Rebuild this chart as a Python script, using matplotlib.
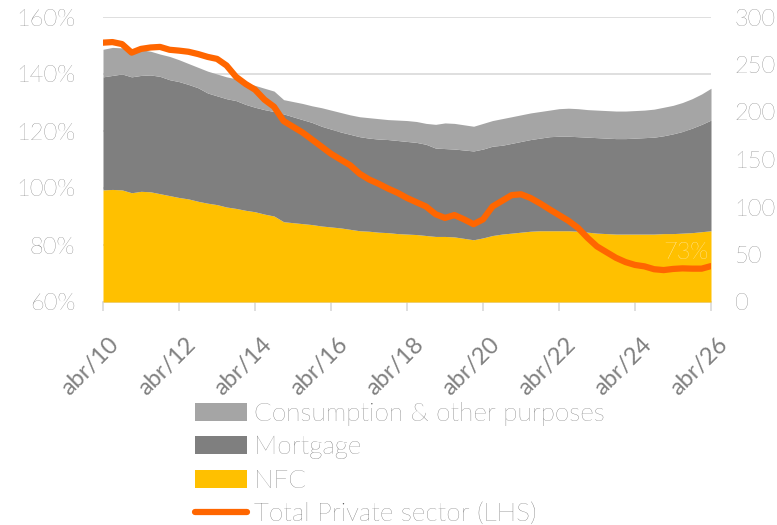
import matplotlib
matplotlib.use("Agg")
import matplotlib.pyplot as plt
import matplotlib.transforms as mtransforms
import numpy as np
import pandas as pd

# quarterly observations, Apr 2010 .. Apr 2026
dates = pd.date_range("2010-04-01", "2026-04-01", freq="3MS")

# stacked components (RHS scale)
nfc = [118, 118.5, 118, 115, 116.5, 116, 114, 112, 110, 108.5, 106, 104, 102.5, 100, 98.5, 96.5,
       95, 92.5, 90.5, 84.5, 83.5, 82.5, 81.5, 80, 79, 78, 76.5, 75, 74.5, 73.5, 73, 72,
       71.5, 71, 70, 69, 69, 68.5, 67, 65.5, 67.5, 70, 71.5, 72.5, 73.5, 74.5, 75, 75,
       75, 75, 74.5, 73.5, 72.5, 72, 71.5, 71.5, 71.5, 71.5, 71.5, 72, 72, 72.5, 73, 74, 75]
mortgage = [119, 120, 122, 122, 122, 123, 123.5, 122, 122, 120.5, 119.5, 116, 114.5, 114, 113.5, 111.5,
            110, 110, 110, 113.5, 111.5, 109.5, 107.5, 105, 103, 101, 100, 99, 98, 98, 98, 98,
            97.5, 97, 96, 93, 92.5, 92.5, 93, 93.5, 93.5, 94, 93.5, 94.5, 95.5, 96.5, 97.5, 99,
            99.5, 99.5, 99.5, 100, 100.5, 100.5, 100.5, 100.5, 101, 101.5, 102, 103, 105, 107, 110, 113, 116.5]
consumption = [29, 29.5, 27.5, 29, 27, 25, 23.5, 24.5, 23, 22, 21.5, 23, 23, 23, 23, 23,
               23, 22.5, 21.5, 15, 16, 17, 17.5, 19.5, 20, 20.5, 20.5, 21, 21.5, 21.5, 21, 21.5,
               22, 22, 22, 25, 27, 27, 26.5, 26, 27, 27, 28, 28, 28, 28, 28, 28,
               29, 29.5, 29.5, 29, 29, 29, 29, 29, 29, 29, 29.5, 30, 30, 30.5, 31, 32, 33.5]

# total private sector debt, % (LHS)
total = [151, 151.2, 150.5, 147.5, 148.8, 149.3, 149.5, 148.5, 148.2, 147.8, 147, 146, 145.3, 143, 139, 136.5,
         134.5, 131, 128.5, 123.5, 121.5, 119.5, 117, 114.5, 112, 110, 108, 105, 103, 101.5, 99.8, 98.3,
         96.5, 95, 93.5, 90.8, 89.5, 90.5, 89, 87.3, 89, 93.5, 95.5, 97.5, 97.8, 96.5, 94.6, 92.5,
         90.5, 88.5, 86, 82.5, 79.5, 77.5, 75.5, 74, 73, 72.5, 71.5, 71.2, 71.6, 71.8, 71.7, 71.7, 72.6]

xtick_years = list(range(2010, 2027, 2))
xtick_labels = ["abr/%02d" % (y % 100) for y in xtick_years]

TEXT = "#555555"
GRID = "#D9D9D9"

plt.rcParams["font.family"] = ["Lato", "DejaVu Sans"]
plt.rcParams["font.weight"] = "light"
plt.rcParams["font.size"] = 17

fig = plt.figure(figsize=(7.77, 5.25), dpi=100)
ax = fig.add_axes([103 / 777, 1 - 302 / 525, 608 / 777, 285 / 525])
ax2 = ax.twinx()
ax3 = ax.twinx()

# left axis: gridlines + labels
ax.set_ylim(60, 160)
ax.set_yticks(range(60, 161, 20))
ax.set_yticklabels(["%d%%" % v for v in range(60, 161, 20)])
ax.yaxis.grid(True, color=GRID, lw=1.2)
ax.set_axisbelow(True)

# stacked areas on the right axis
base = np.zeros(len(dates))
area_handles = []
for vals, col, lab in [(nfc, "#FFC000", "NFC"),
                       (mortgage, "#7F7F7F", "Mortgage"),
                       (consumption, "#A5A5A5", "Consumption & other purposes")]:
    top = base + np.array(vals)
    h = ax2.fill_between(dates, base, top, color=col, lw=0, label=lab)
    area_handles.append(h)
    base = top
ax2.set_ylim(0, 300)
ax2.set_yticks(range(0, 301, 50))

# total line on its own copy of the left scale
ln, = ax3.plot(dates, total, color="#FF6600", lw=4.5, solid_capstyle="round",
               solid_joinstyle="round", label="Total Private sector (LHS)")
ax3.set_ylim(60, 160)
ax3.set_yticks([])
ax3.annotate("%d%%" % round(total[-1]), (dates[-1], total[-1]), xytext=(-2, 2),
             textcoords="offset points", ha="right", va="bottom", color="white", fontsize=17)

for a in (ax, ax2, ax3):
    for s in a.spines.values():
        s.set_visible(False)
    a.set_xlim(dates[0], dates[-1])

ax.spines["bottom"].set_visible(True)
ax.spines["bottom"].set_color(GRID)
ax.spines["bottom"].set_linewidth(1.2)
ax.set_xticks(pd.to_datetime(["%d-04-01" % y for y in xtick_years]))
ax.set_xticklabels(xtick_labels, rotation=45, ha="right", va="center",
                   rotation_mode="anchor", fontweight="normal")
ax.tick_params(axis="x", length=6.5, width=1.2, color=GRID, labelcolor="#808080", pad=0)
ax.tick_params(axis="y", length=0, labelcolor=TEXT, pad=20)
ax2.tick_params(axis="y", length=0, labelcolor=TEXT, pad=17)
ax3.tick_params(axis="x", bottom=False, labelbottom=False)
ax2.tick_params(axis="x", bottom=False, labelbottom=False)

# move the rotated labels so their ends sit below-right of the ticks
shift = mtransforms.ScaledTranslation(13 / 100, -30 / 100, fig.dpi_scale_trans)
for lbl in ax.get_xticklabels():
    lbl.set_transform(lbl.get_transform() + shift)

handles = area_handles[::-1] + [ln]
fig.legend(handles, [h.get_label() for h in handles], loc="upper left",
           bbox_to_anchor=(195 / 777, 1 - 402 / 525), frameon=False, borderpad=0,
           borderaxespad=0, handlelength=2.0, handletextpad=0.25, labelspacing=0.36,
           labelcolor="#505050", fontsize=18.8)

fig.savefig("out.png", dpi=100)
